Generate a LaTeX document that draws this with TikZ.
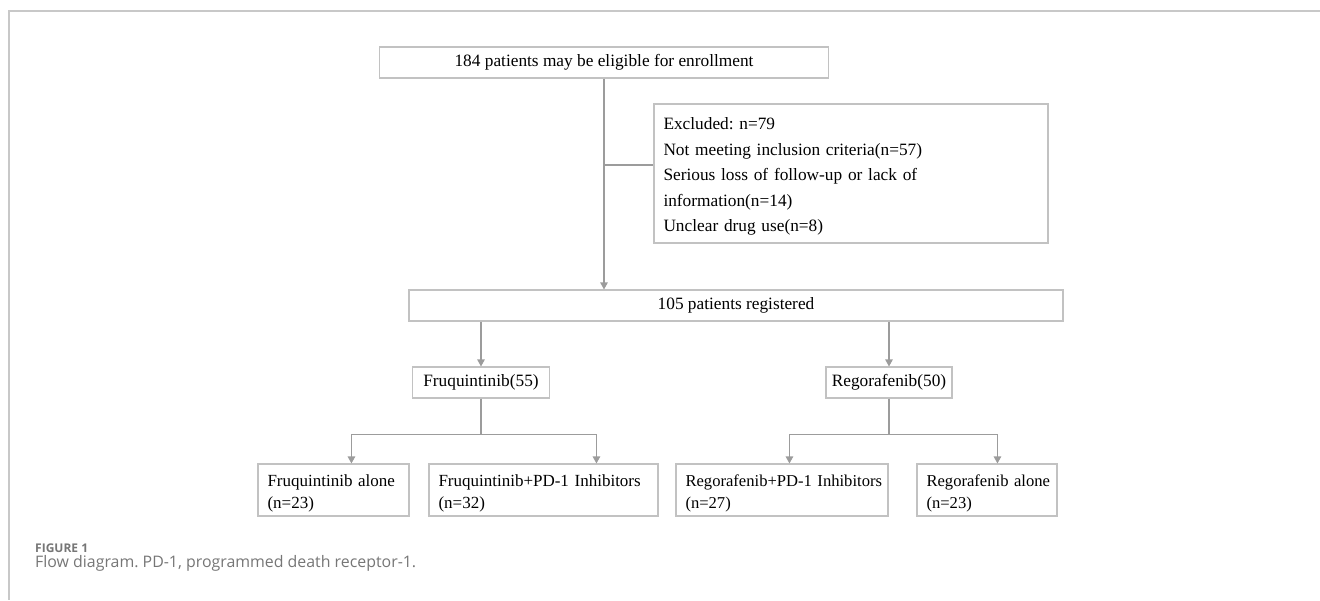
\documentclass[tikz,border=0pt]{standalone}
\usepackage{fontspec}
\setmainfont{Liberation Serif}
\newfontfamily\capfont{Open Sans}
\usetikzlibrary{arrows.meta,calc}
\frenchspacing
\definecolor{boxgray}{HTML}{C2C2C2}
\definecolor{linegray}{HTML}{9C9C9C}
\definecolor{framegray}{HTML}{C8C8C8}
\definecolor{capgray}{HTML}{767676}
\newcommand{\oneline}[1]{\mbox{#1}}
\newcommand{\topstrut}{\rule{0pt}{18pt}}
\tikzset{
  box/.style={draw=boxgray, line width=1.1pt, rectangle, inner sep=0pt,
    font=\fontsize{17.3}{22}\selectfont},
  lbox/.style={box, inner xsep=9.5pt, align=left, font=\fontsize{17}{22}\selectfont},
  conn/.style={draw=linegray, line width=1.1pt},
  arr/.style={conn, -{Triangle[length=7pt,width=7.5pt]}, linegray},
}
\begin{document}
\begin{tikzpicture}[x=1pt,y=-1pt]
\useasboundingbox (0,0) rectangle (1320,600);
\draw[framegray, line width=1.2pt] (1320,11) -- (9,11) -- (9,600);

\node[box, minimum width=449pt, minimum height=31pt] (top) at (604,62.5) {\raisebox{-1.5pt}{184 patients may be eligible for enrollment}};
\node[lbox, font=\fontsize{17.3}{25.5}\selectfont, text width=375pt, minimum width=394pt, minimum height=139pt] (excl) at (851,173.5)
  {\topstrut\oneline{Excluded: n=79}\\\oneline{Not meeting inclusion criteria(n=57)}\\\oneline{Serious loss of follow-up or lack of}\\\oneline{information(n=14)}\\\oneline{Unclear drug use(n=8)}};
\node[box, minimum width=654pt, minimum height=31pt] (reg) at (736,305.5) {\raisebox{-1.5pt}{105 patients registered}};

\node[box, minimum width=137pt, minimum height=31pt] (fruq) at (481,382.5) {\raisebox{-1.5pt}{Fruquintinib(55)}};
\node[box, minimum width=126pt, minimum height=31pt] (rego) at (889,382.5) {\raisebox{-1.5pt}{Regorafenib(50)}};

\node[lbox, text width=132pt, minimum width=151pt, minimum height=52pt] (fa) at (333.5,490) {\topstrut\oneline{Fruquintinib alone}\\\oneline{(n=23)}};
\node[lbox, text width=210pt, minimum width=229pt, minimum height=52pt] (fp) at (543.5,490) {\topstrut\oneline{Fruquintinib+PD-1 Inhibitors}\\\oneline{(n=32)}};
\node[lbox, font=\fontsize{16.6}{22}\selectfont, text width=193pt, minimum width=212pt, minimum height=52pt] (rp) at (782,490) {\topstrut\oneline{Regorafenib+PD-1 Inhibitors}\\\oneline{(n=27)}};
\node[lbox, font=\fontsize{16.6}{22}\selectfont, text width=121pt, minimum width=140pt, minimum height=52pt] (ra) at (987,490) {\topstrut\oneline{Regorafenib alone}\\\oneline{(n=23)}};

% main flow
\draw[arr] (top.south) -- (top.south |- reg.north);
\coordinate (exin) at ($(excl.west)+(0,-8.5)$);
\draw[conn] (top.south |- exin) -- (exin);

\draw[arr] (reg.south -| fruq.north) -- (fruq.north);
\draw[arr] (reg.south -| rego.north) -- (rego.north);

% fruquintinib branches
\path (fa.north west) ++(94,0) coordinate (faT);
\path (fp.north west) ++(168,0) coordinate (fpT);
\draw[arr] (fruq.south) -- ++(0,36) -| (faT);
\draw[arr] (fruq.south) -- ++(0,36) -| (fpT);

% regorafenib branches
\path (rp.north west) ++(114,0) coordinate (rpT);
\path (ra.north west) ++(81,0) coordinate (raT);
\draw[arr] (rego.south) -- ++(0,36) -| (rpT);
\draw[arr] (rego.south) -- ++(0,36) -| (raT);

% caption
\node[anchor=base west, inner sep=0pt, text=capgray, font=\capfont\bfseries\fontsize{12}{14}\selectfont] (figlab) at (35,552.7) {FIGURE 1};
\node[anchor=base west, inner sep=0pt, text=capgray, font=\capfont\fontsize{15.9}{18}\selectfont] (cap) at (35,567.5) {Flow diagram. PD-1, programmed death receptor-1.};
\end{tikzpicture}
\end{document}
